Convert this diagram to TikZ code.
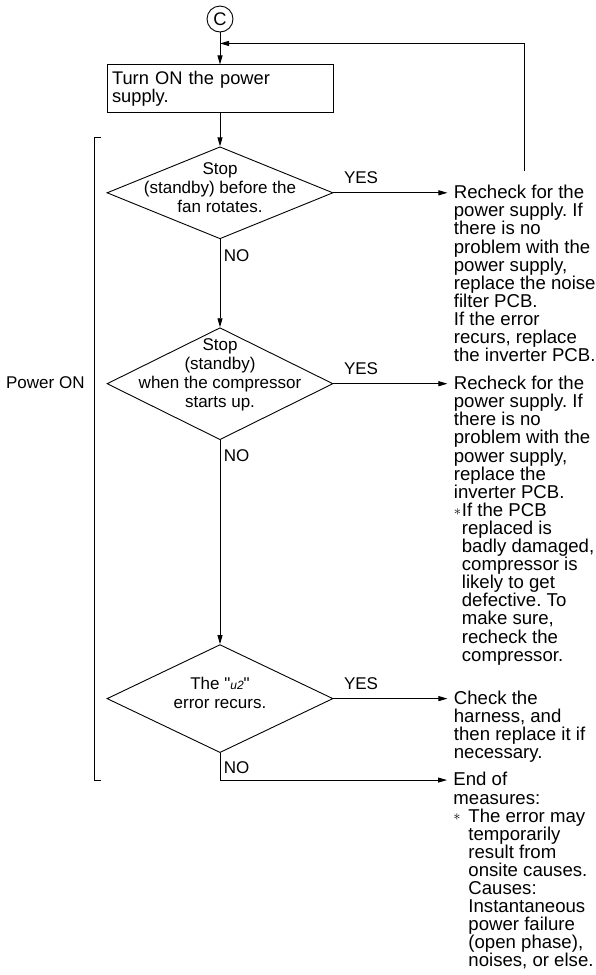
\documentclass[tikz,border=0pt]{standalone}
\usepackage{fontspec}
\setmainfont{Liberation Sans}
\usetikzlibrary{arrows.meta,positioning,shapes.geometric}
\newcommand{\flowfont}{\fontsize{18.3}{18.1}\selectfont}
\newcommand{\askfont}{\fontsize{17}{19}\selectfont}
\newcommand{\notefont}{\fontsize{18.6}{18.1}\selectfont}
\newcommand{\segcode}{{\fontsize{12}{12}\selectfont\itshape u2}}
\newcommand{\starmark}{\raisebox{1.2pt}{\fontsize{14}{14}\selectfont$\ast$}}
\frenchspacing
\tikzset{
  >={Triangle[length=9pt,width=5pt]},
  conn/.style={
    draw, circle, inner sep=0pt, minimum size=26pt, font=\flowfont
  },
  pbox/.style={
    draw, rectangle, align=left, inner sep=5pt, font=\flowfont,
    text width=216pt, minimum height=48pt
  },
  decision/.style={
    draw, diamond, inner sep=0pt, minimum width=226pt
  },
  dtext/.style={
    align=center, inner sep=0pt, font=\askfont
  },
  note/.style={
    align=left, inner sep=0pt, anchor=north west, font=\notefont
  },
  tag/.style={font=\askfont},
}

\begin{document}
\begin{tikzpicture}[x=1pt, y=-1pt, line width=0.9pt, node distance=32pt]
  \useasboundingbox (0,0) rectangle (595,975);
  \node[conn] (cC) at (220,19) {C};
  \node[pbox, below=of cC] (pwr) {Turn ON the power\\supply.};
  \coordinate[below=11pt of cC] (merge);
  \draw[->] (cC) -- (pwr);

  \node[decision, minimum height=92pt, below=33pt of pwr] (d1) {};
  \node[dtext, yshift=5pt] (q1) at (d1) {Stop\\(standby) before the\\fan rotates.};
  \draw[->] (pwr) -- (d1);

  \node[decision, minimum height=112pt, below=88pt of d1] (d2) {};
  \node[dtext, yshift=9pt] (q2) at (d2) {Stop\\(standby)\\when the compressor\\starts up.};
  \draw[->] (d1) -- node[tag, pos=.19, right] {NO} (d2);

  \node[decision, minimum height=108pt, below=204pt of d2] (d3) {};
  \node[dtext, yshift=6pt] (q3) at (d3) {The \textquotedbl\segcode\textquotedbl\\error recurs.};
  \draw[->] (d2) -- node[tag, pos=.075, right] {NO} (d3);

  % answers on the right
  \node[note] (r1) at ([xshift=120pt,yshift=8pt]d1.east) {Recheck for the\\
    power supply. If\\there is no\\problem with the\\power supply,\\
    replace the noise\\filter PCB.\\If the error\\recurs, replace\\
    the inverter PCB.};
  \draw[->, shorten >=6pt] (d1.east) -- node[tag, pos=.23, above=5pt] {YES} (d1.east -| r1.west);
  \draw[->] ([yshift=14pt]r1.north) |- (merge);

  \node[note] (r2) at ([xshift=120pt,yshift=8pt]d2.east) {Recheck for the\\
    power supply. If\\there is no\\problem with the\\power supply,\\
    replace the\\inverter PCB.\\
    \makebox[8pt][l]{\starmark}If the PCB\\
    \hspace*{8pt}replaced is\\
    \hspace*{8pt}badly damaged,\\
    \hspace*{8pt}compressor is\\
    \hspace*{8pt}likely to get\\
    \hspace*{8pt}defective. To\\
    \hspace*{8pt}make sure,\\
    \hspace*{8pt}recheck the\\
    \hspace*{8pt}compressor.};
  \draw[->, shorten >=6pt] (d2.east) -- node[tag, pos=.23, above=5pt] {YES} (d2.east -| r2.west);

  \node[note] (r3) at ([xshift=120pt,yshift=8pt]d3.east) {Check the\\
    harness, and\\then replace it if\\necessary.};
  \draw[->, shorten >=6pt] (d3.east) -- node[tag, pos=.23, above=5pt] {YES} (d3.east -| r3.west);

  \coordinate[below=27pt of d3.south] (nobot);
  \node[note] (r4) at ([xshift=233pt,yshift=8pt]nobot) {End of\\measures:\\
    \makebox[15pt][l]{\starmark}The error may\\
    \hspace*{15pt}temporarily\\
    \hspace*{15pt}result from\\
    \hspace*{15pt}onsite causes.\\
    \hspace*{15pt}Causes:\\
    \hspace*{15pt}Instantaneous\\
    \hspace*{15pt}power failure\\
    \hspace*{15pt}(open phase),\\
    \hspace*{15pt}noises, or else.};
  \draw (d3) -- node[tag, pos=.55, right] {NO} (nobot);
  \draw[->, shorten >=6pt] (nobot) -- (nobot -| r4.west);

  % bracket
  \coordinate (brtop) at (101,137);
  \draw (brtop) -- ++(-7,0) |- (nobot -| brtop);
  \node[tag, anchor=east, inner sep=0pt] (side) at (85,383) {Power ON};
\end{tikzpicture}
\end{document}
